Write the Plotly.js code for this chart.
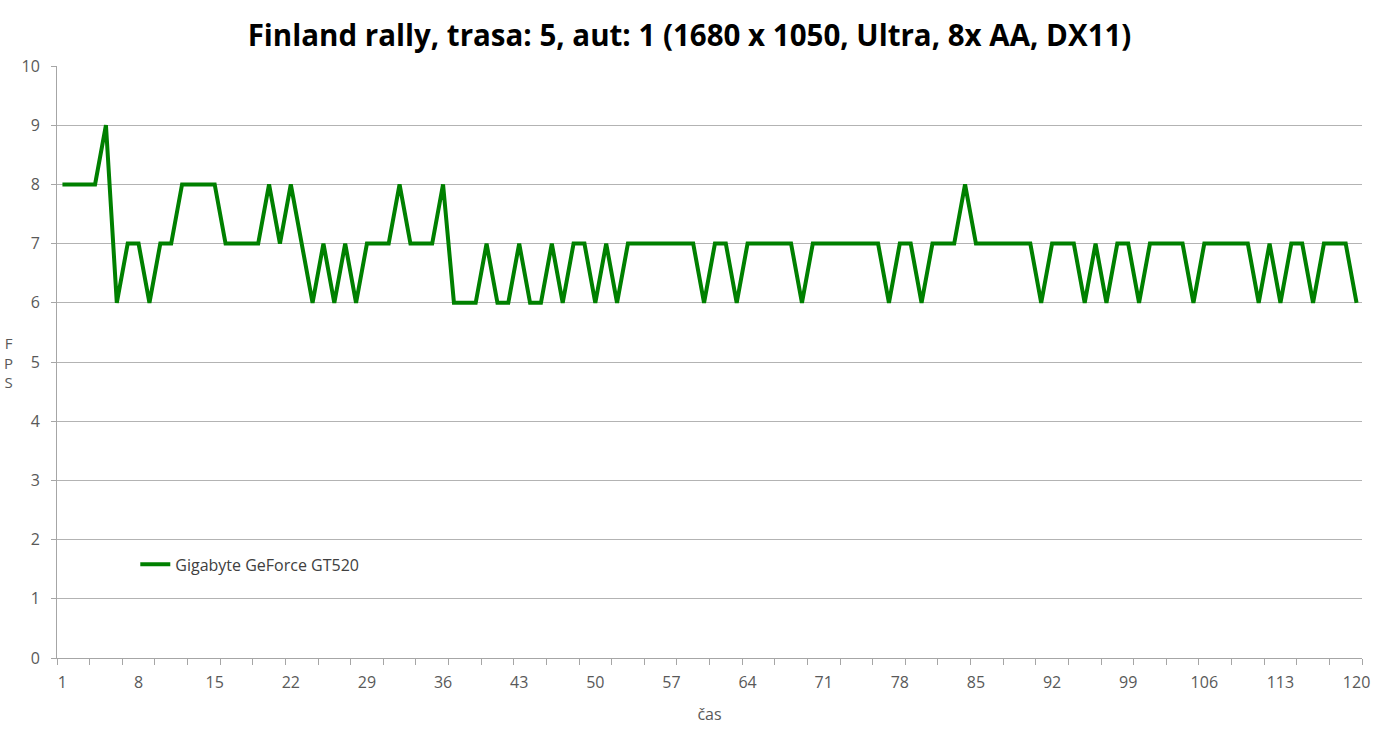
<!DOCTYPE html>
<html>
<head>
<meta charset="utf-8">
<script src="https://cdn.plot.ly/plotly-3.0.1.min.js"></script>
<style>html,body{margin:0;padding:0;background:#fff;}#chart{width:1379px;height:738px;}</style>
</head>
<body>
<div id="chart"></div>
<script>
const chartTitle = "Finland rally, trasa: 5, aut: 1 (1680 x 1050, Ultra, 8x AA, DX11)";
const seriesName = "Gigabyte GeForce GT520";
const xTitle = "čas";
const yTitle = "F<br>P<br>S";
const fps = [
  8,8,8,8,9,6,7,7,6,7,
  7,8,8,8,8,7,7,7,7,8,
  7,8,7,6,7,6,7,6,7,7,
  7,8,7,7,7,8,6,6,6,7,
  6,6,7,6,6,7,6,7,7,6,
  7,6,7,7,7,7,7,7,7,6,
  7,7,6,7,7,7,7,7,6,7,
  7,7,7,7,7,7,6,7,7,6,
  7,7,7,8,7,7,7,7,7,7,
  6,7,7,7,6,7,6,7,7,6,
  7,7,7,7,6,7,7,7,7,7,
  6,7,6,7,7,6,7,7,7,6
];
const time = fps.map((_, i) => i + 1);
const xTickVals = [1,8,15,22,29,36,43,50,57,64,71,78,85,92,99,106,113,120];
const yTickVals = [0,1,2,3,4,5,6,7,8,9,10];

const font = "Open Sans, Liberation Sans, sans-serif";
const data = [{
  x: time, y: fps, type: "scatter", mode: "lines", name: seriesName,
  line: {color: "#008000", width: 4}
}];
const layout = {
  width: 1379, height: 738,
  margin: {l: 57, r: 17, t: 66, b: 80},
  paper_bgcolor: "#fff", plot_bgcolor: "#fff",
  title: {text: "<b>" + chartTitle + "</b>", x: 0.5, xanchor: "center", y: 0.952, yanchor: "middle",
          font: {family: "Open Sans, sans-serif", size: 29.5, color: "#000"}},
  showlegend: true,
  legend: {x: 0.06, y: 0.158, xanchor: "left", yanchor: "middle", bgcolor: "rgba(0,0,0,0)",
           font: {family: font, size: 16, color: "#404040"}},
  xaxis: {
    range: [0.5, 120.5], tickvals: xTickVals, ticktext: xTickVals.map(String),
    ticks: "", showgrid: false, zeroline: false,
    showline: true, linecolor: "#a6a6a6", linewidth: 1,
    ticklabelstandoff: 10,
    tickfont: {family: font, size: 16, color: "#595959"},
    minor: {tick0: 0.5, dtick: 3, ticks: "outside", ticklen: 6, tickcolor: "#a6a6a6", showgrid: false},
    title: {text: xTitle, font: {family: font, size: 16, color: "#595959"}, standoff: 16}
  },
  yaxis: {
    range: [0, 10], tickvals: yTickVals, ticks: "outside", ticklen: 5, tickcolor: "#a6a6a6",
    showgrid: true, gridcolor: "#b3b3b3", gridwidth: 1, zeroline: false,
    showline: true, linecolor: "#a6a6a6", linewidth: 1,
    ticklabelstandoff: 8,
    tickfont: {family: font, size: 16, color: "#595959"}
  },
  annotations: [{
    text: yTitle, xref: "paper", yref: "paper", x: -0.037, y: 0.5, xanchor: "center", yanchor: "middle",
    showarrow: false, font: {family: font, size: 15, color: "#595959"}, align: "center"
  }]
};
Plotly.newPlot("chart", data, layout, {displayModeBar: false, staticPlot: true});
</script>
</body>
</html>
